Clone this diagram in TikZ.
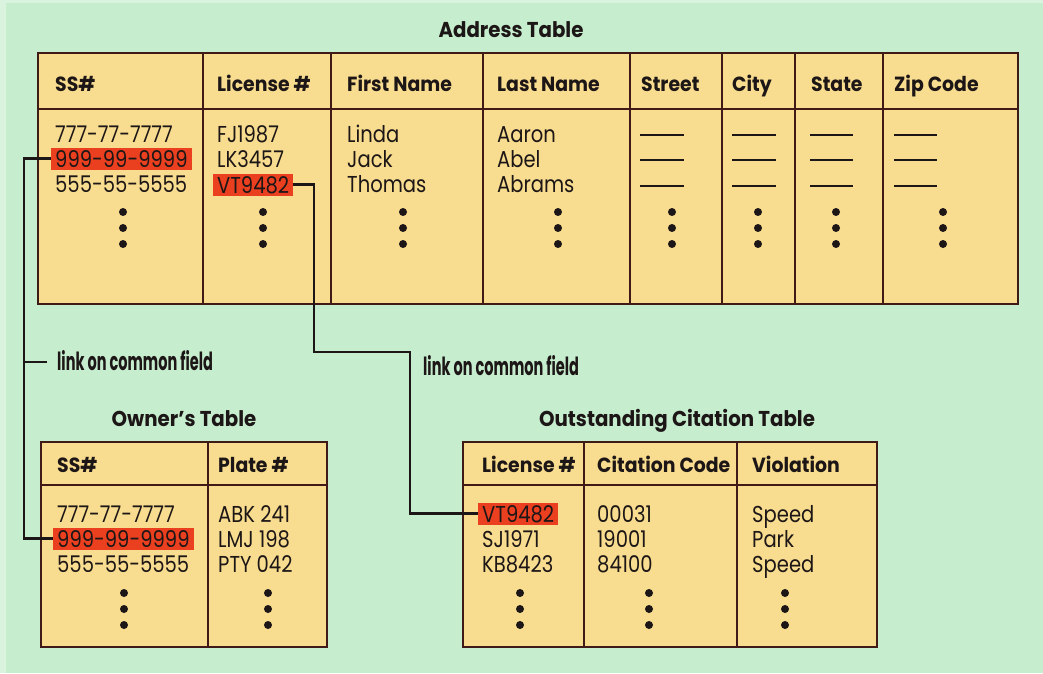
\documentclass[tikz,border=0pt]{standalone}
\usepackage{fontspec}
\setmainfont{Poppins}
\newfontfamily\cellfont[FakeStretch=0.85]{Poppins}
\newfontfamily\headfont[FakeStretch=0.92]{Poppins}
\newfontfamily\condfont[FakeStretch=0.58]{Poppins}

\definecolor{bgmint}{HTML}{C6EDCD}
\definecolor{tablefill}{HTML}{F8DC8F}
\definecolor{rulecol}{HTML}{401A16}
\definecolor{hilite}{HTML}{EA4020}
\definecolor{ink}{HTML}{1C1616}

\tikzset{
  tbl/.style={draw=rulecol, line width=1.9pt, fill=tablefill},
  colrule/.style={draw=rulecol, line width=1.3pt},
  ttl/.style={font=\headfont\bfseries\fontsize{21.5}{21.5}\selectfont, text=ink, anchor=base, inner sep=0pt},
  hdr/.style={font=\headfont\bfseries\fontsize{20.5}{20.5}\selectfont, text=ink, anchor=base west, inner sep=0pt},
  cell/.style={font=\cellfont\fontsize{23}{23}\selectfont, text=ink, anchor=base west, inner sep=0pt},
  hl/.style={cell, fill=hilite, inner xsep=4pt, inner ysep=2.5pt, text height=17pt, text depth=0.5pt},
  blank/.style={draw=ink, line width=1.5pt},
  vdot/.style={fill=ink},
  link/.style={draw=ink, line width=2.9pt, line join=miter},
  lbl/.style={font=\condfont\bfseries\fontsize{25}{25}\selectfont, text=ink, anchor=base west, inner sep=0pt},
}

\begin{document}
\begin{tikzpicture}[x=1pt, y=-1pt]
\useasboundingbox (0,0) rectangle (1043,673);
\fill[bgmint] (0,0) rectangle (1043,673);
\fill[white, opacity=0.35] (0,0) rectangle (6,673);
\fill[white, opacity=0.35] (6,0) rectangle (1043,3);

% ---------------- Address table ----------------
\node[ttl] (t-addr) at (511,37) {Address Table};
\draw[tbl] (38,53) rectangle (1018,304);
\draw[colrule] (38,109) -- (1018,109);
\foreach \x in {203,331,483,630,722,795,883}
  \draw[colrule] (\x,53) -- (\x,304);

\node[hdr] (ah1) at (55,91)  {SS\#};
\node[hdr] (ah2) at (217,91) {License \#};
\node[hdr] (ah3) at (347,91) {First Name};
\node[hdr] (ah4) at (497,91) {Last Name};
\node[hdr] (ah5) at (641,91) {Street};
\node[hdr] (ah6) at (732,91) {City};
\node[hdr] (ah7) at (811,91) {State};
\node[hdr] (ah8) at (894,91) {Zip Code};

\node[cell] (a-ss1) at (55,142) {777-77-7777};
\node[hl]   (a-ss2) at (51,167) {999-99-9999};
\node[cell] (a-ss3) at (55,192) {555-55-5555};

\node[cell] (a-lic1) at (217,142) {FJ1987};
\node[cell] (a-lic2) at (217,167) {LK3457};
\node[hl]   (a-lic3) at (213,193) {VT9482};

\node[cell] (a-fn1) at (347,142) {Linda};
\node[cell] (a-fn2) at (347,167) {Jack};
\node[cell] (a-fn3) at (347,192) {Thomas};

\node[cell] (a-ln1) at (497,142) {Aaron};
\node[cell] (a-ln2) at (497,167) {Abel};
\node[cell] (a-ln3) at (497,192) {Abrams};

% blank entries for street, city, state, zip
\foreach \xa/\xb in {640/684, 732/776, 810/853, 894/937}
  \foreach \y in {135,160,186}
    \draw[blank] (\xa,\y) -- (\xb,\y);

\foreach \x in {123,263,403,558,672,758,836,943}
  \foreach \y in {212,228,244}
    \fill[vdot] (\x,\y) circle (4);

% ---------------- Owner's table ----------------
\node[ttl] (t-own) at (184,426) {Owner’s Table};
\draw[tbl] (41,442) rectangle (327,647);
\draw[colrule] (41,485) -- (327,485);
\draw[colrule] (208,442) -- (208,647);

\node[hdr] (oh1) at (57,472)  {SS\#};
\node[hdr] (oh2) at (218,472) {Plate \#};

\node[cell] (o-ss1) at (57,522) {777-77-7777};
\node[hl]   (o-ss2) at (53,547) {999-99-9999};
\node[cell] (o-ss3) at (57,572) {555-55-5555};

\node[cell] (o-pl1) at (218,522) {ABK 241};
\node[cell] (o-pl2) at (218,547) {LMJ 198};
\node[cell] (o-pl3) at (218,572) {PTY 042};

\foreach \x in {124,268}
  \foreach \y in {593,609,625}
    \fill[vdot] (\x,\y) circle (4);

% ---------------- Outstanding citation table ----------------
\node[ttl] (t-cit) at (677,426) {Outstanding Citation Table};
\draw[tbl] (463,442) rectangle (877,647);
\draw[colrule] (463,485) -- (877,485);
\foreach \x in {584,737}
  \draw[colrule] (\x,442) -- (\x,647);

\node[hdr] (ch1) at (482,472) {License \#};
\node[hdr] (ch2) at (597,472) {Citation Code};
\node[hdr] (ch3) at (752,472) {Violation};

\node[hl]   (c-lic1) at (478,522) {VT9482};
\node[cell] (c-lic2) at (482,547) {SJ1971};
\node[cell] (c-lic3) at (482,572) {KB8423};

\node[cell] (c-cc1) at (597,522) {00031};
\node[cell] (c-cc2) at (597,547) {19001};
\node[cell] (c-cc3) at (597,572) {84100};

\node[cell] (c-vi1) at (752,522) {Speed};
\node[cell] (c-vi2) at (752,547) {Park};
\node[cell] (c-vi3) at (752,572) {Speed};

\foreach \x in {520,649,785}
  \foreach \y in {593,609,625}
    \fill[vdot] (\x,\y) circle (4);

% ---------------- Links on common fields ----------------
\coordinate (k1) at (24,158);
\draw[link] (a-ss2.west) -- (a-ss2.west -| k1) |- (o-ss2.west);
\node[lbl] (l1) at (57,370) {link on common field};
\coordinate (tk) at (47,362);
\draw[link] (tk) -- (k1 |- tk);

\coordinate (j1) at (314,352);
\coordinate (j2) at (410,352);
\draw[link] (a-lic3.east) -| (j1) -- (j2) |- (c-lic1.west);
\node[lbl] (l2) at (423,375) {link on common field};
\end{tikzpicture}
\end{document}
